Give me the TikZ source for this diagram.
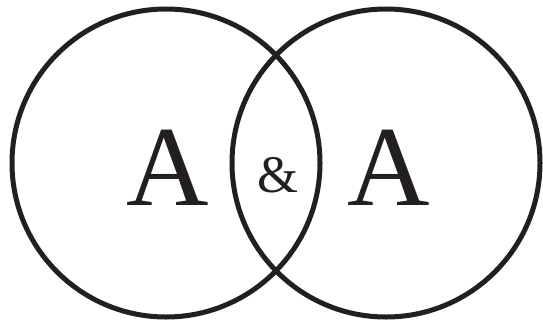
\documentclass[tikz,border=0pt]{standalone}
\usepackage{fontspec}
\setmainfont{Liberation Serif}
\usetikzlibrary{positioning}
\definecolor{ink}{HTML}{231F20}

\begin{document}
\begin{tikzpicture}[
      ring/.style={circle,draw=ink,line width=0.1cm,minimum size=6.16cm,inner sep=0pt},
      letter/.style={text=ink,inner sep=0pt,anchor=base,font=\fontsize{65}{65}\selectfont},
      amp/.style={text=ink,inner sep=0pt,anchor=base,font=\fontsize{30}{30}\selectfont}
    ]
      \useasboundingbox (0,0) rectangle (10.86,6.46);
      \node[ring] (l) at (3.32,3.2) {};
      \node[ring] (r) at (7.72,3.2) {};
      \node[letter] (la) at (3.36,2.36) {A};
      \node[letter] (ra) at (7.77,2.36) {A};
      \node[amp] (and) at (5.56,2.62) {\&};
    \end{tikzpicture}
\end{document}
